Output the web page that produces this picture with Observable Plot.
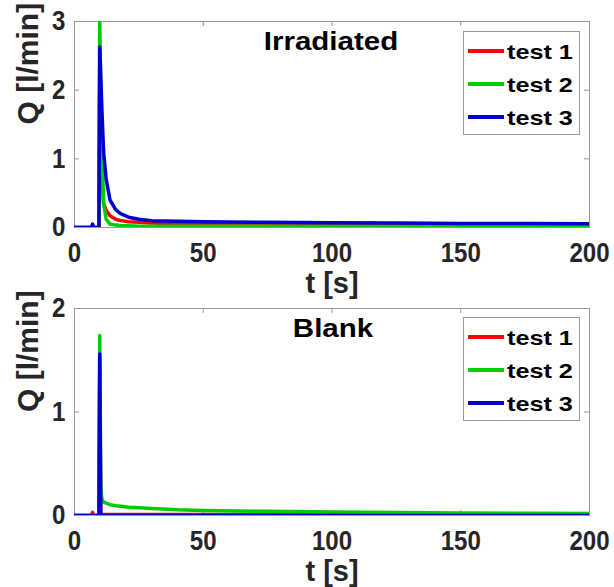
<!DOCTYPE html>
<html><head><meta charset="utf-8">
<script src="https://cdn.jsdelivr.net/npm/d3@7"></script>
<script src="https://cdn.jsdelivr.net/npm/@observablehq/plot@0.6"></script>
<style>
body{margin:0;background:#fff;}
#wrap{position:relative;width:614px;height:587px;overflow:hidden;background:#fff;}
#wrap svg{display:block;}
.ttl{position:absolute;font:bold 25px "Liberation Sans",Arial,sans-serif;line-height:25px;white-space:nowrap;transform-origin:center;transform:translateX(-50%) scaleX(1.18);color:#000;}
.leg{position:absolute;width:117px;height:104px;border:1px solid #9a9a9a;background:#fff;box-sizing:border-box;}
.ent{position:absolute;left:4px;height:21px;width:110px;}
.sw{position:absolute;left:0;top:8.5px;width:36px;height:4px;}
.lt{position:absolute;left:39px;top:0;font:bold 21px "Liberation Sans",Arial,sans-serif;line-height:21px;white-space:nowrap;transform-origin:left center;transform:scaleX(1.2);color:#000;}
</style></head>
<body>
<div id="wrap"></div>
<script>
// shared time grid [s]
const time = [0, 6.5, 7, 7.5, 9.5, 9.8, 10.2, 10.6, 11.3, 12.3, 13.8, 16, 18, 21, 25, 30, 40, 50, 75, 100, 125, 150, 175, 200];

// Irradiated panel, Q [l/min]
const irrTest1 = [0, 0, 0, 0, 0, 2.4, 1.5, 0.8, 0.35, 0.25, 0.17, 0.12, 0.1, 0.085, 0.075, 0.065, 0.055, 0.05, 0.045, 0.04, 0.04, 0.035, 0.035, 0.03];
const irrTest2 = [0, 0, 0, 0, 0, 3.0, 2.0, 1.2, 0.35, 0.12, 0.05, 0.035, 0.03, 0.025, 0.02, 0.02, 0.02, 0.02, 0.02, 0.02, 0.02, 0.02, 0.02, 0.02];
const irrTest3 = [0, 0, 0.05, 0, 0, 2.63, 2.2, 1.75, 1.1, 0.7, 0.4, 0.26, 0.2, 0.15, 0.12, 0.1, 0.09, 0.085, 0.075, 0.07, 0.065, 0.06, 0.06, 0.055];

// Blank panel, Q [l/min]
const blankTest1 = [0, 0, 0.03, 0, 0, 1.4, 0, 0.01, 0.01, 0.01, 0.01, 0.01, 0.01, 0.01, 0.01, 0.01, 0.01, 0.01, 0.01, 0.01, 0.01, 0.01, 0.01, 0.01];
const blankTest2 = [0, 0, 0, 0, 0, 1.74, 0.3, 0.16, 0.13, 0.12, 0.105, 0.095, 0.09, 0.08, 0.075, 0.068, 0.055, 0.048, 0.04, 0.033, 0.028, 0.025, 0.022, 0.02];
const blankTest3 = [0, 0, 0, 0, 0, 1.56, 0, 0, 0, 0, 0, 0, 0, 0, 0, 0, 0, 0, 0, 0, 0, 0, 0, 0];

const seriesNames = ["test 1", "test 2", "test 3"];
const seriesColors = ["#ff0000", "#00cc00", "#0000cc"];
const xDomain = [0, 200];
const xTicks = [0, 50, 100, 150, 200];
const irrYDomain = [0, 3];
const irrYTicks = [0, 1, 2, 3];
const blankYDomain = [0, 2];
const blankYTicks = [0, 1, 2];
const titles = ["Irradiated", "Blank"];
const xLabel = "t [s]";
const yLabel = "Q [l/min]";

const W = 614, ML = 74, MR = 25;
const gray = "#9a9a9a";

function panel({series, yDomain, yTicks, height, marginTop, marginBottom}) {
  const rows = series.flatMap((vals, i) => vals.map((q, j) => ({t: time[j], q, test: seriesNames[i]})));
  const innerH = height - marginTop - marginBottom;
  const innerW = W - ML - MR;
  const yLen = (yDomain[1] - yDomain[0]) * 5 / innerH;
  const xLen = (xDomain[1] - xDomain[0]) * 5 / innerW;
  const svg = Plot.plot({
    width: W, height, marginLeft: ML, marginRight: MR, marginTop, marginBottom,
    style: {fontFamily: '"Liberation Sans",Arial,sans-serif', fontSize: "28px", fontWeight: "bold", color: "#262626", background: "#fff", overflow: "visible"},
    x: {domain: xDomain},
    y: {domain: yDomain},
    color: {domain: seriesNames, range: seriesColors},
    marks: [
      Plot.ruleX(xTicks, {x: d => d, y1: yDomain[0], y2: yDomain[0] + yLen, stroke: gray}),
      Plot.ruleX(xTicks, {x: d => d, y1: yDomain[1] - yLen, y2: yDomain[1], stroke: gray}),
      Plot.ruleY(yTicks, {y: d => d, x1: xDomain[0], x2: xDomain[0] + xLen, stroke: gray}),
      Plot.ruleY(yTicks, {y: d => d, x1: xDomain[1] - xLen, x2: xDomain[1], stroke: gray}),
      Plot.frame({stroke: gray}),
      Plot.line(rows, {x: "t", y: "q", z: "test", stroke: "test", strokeWidth: 3.5, clip: true}),
      Plot.axisX({ticks: xTicks, tickSize: 0, tickPadding: 15, tickFormat: d3.format("d"), label: null}),
      Plot.axisY({ticks: yTicks, tickSize: 0, tickPadding: 9, tickFormat: d3.format("d"), label: null}),
      Plot.text([xLabel], {text: d => d, frameAnchor: "bottom", dy: 56, lineAnchor: "middle", fontSize: 29, ariaLabel: "xlabel"}),
      Plot.text([yLabel], {text: d => d, frameAnchor: "left", dx: -46, rotate: -90, lineAnchor: "middle", fontSize: 30, ariaLabel: "ylabel"})
    ]
  });
  // narrow the horizontally-set text (the reference's glyphs are condensed)
  svg.querySelectorAll('g[aria-label="x-axis tick label"] text, g[aria-label="y-axis tick label"] text, g[aria-label="xlabel"] text').forEach(t => {
    t.setAttribute("transform", (t.getAttribute("transform") || "") + " scale(0.86,1)");
  });
  svg.querySelectorAll('g[aria-label="ylabel"] text').forEach(t => {
    t.setAttribute("transform", (t.getAttribute("transform") || "") + " scale(1,0.9)");
  });
  return svg;
}

const wrap = document.getElementById("wrap");
wrap.appendChild(panel({series: [irrTest1, irrTest2, irrTest3], yDomain: irrYDomain, yTicks: irrYTicks, height: 295, marginTop: 21, marginBottom: 68}));
wrap.appendChild(panel({series: [blankTest1, blankTest2, blankTest3], yDomain: blankYDomain, yTicks: blankYTicks, height: 292, marginTop: 13, marginBottom: 72}));

// titles
const titlePos = [{x: 331, y: 29}, {x: 333, y: 316}];
titles.forEach((t, i) => {
  const d = document.createElement("div");
  d.className = "ttl";
  d.textContent = t;
  d.style.left = titlePos[i].x + "px";
  d.style.top = titlePos[i].y + "px";
  wrap.appendChild(d);
});

// legends
const legendTops = [31, 317];
const entryOffsets = [19, 52, 85];
legendTops.forEach(top => {
  const lg = document.createElement("div");
  lg.className = "leg";
  lg.style.left = "463px";
  lg.style.top = top + "px";
  seriesNames.forEach((name, i) => {
    const e = document.createElement("div");
    e.className = "ent";
    e.style.top = (entryOffsets[i] - 10.5) + "px";
    const sw = document.createElement("div");
    sw.className = "sw";
    sw.style.background = seriesColors[i];
    const lt = document.createElement("div");
    lt.className = "lt";
    lt.textContent = name;
    e.appendChild(sw); e.appendChild(lt);
    lg.appendChild(e);
  });
  wrap.appendChild(lg);
});
</script>
</body></html>
